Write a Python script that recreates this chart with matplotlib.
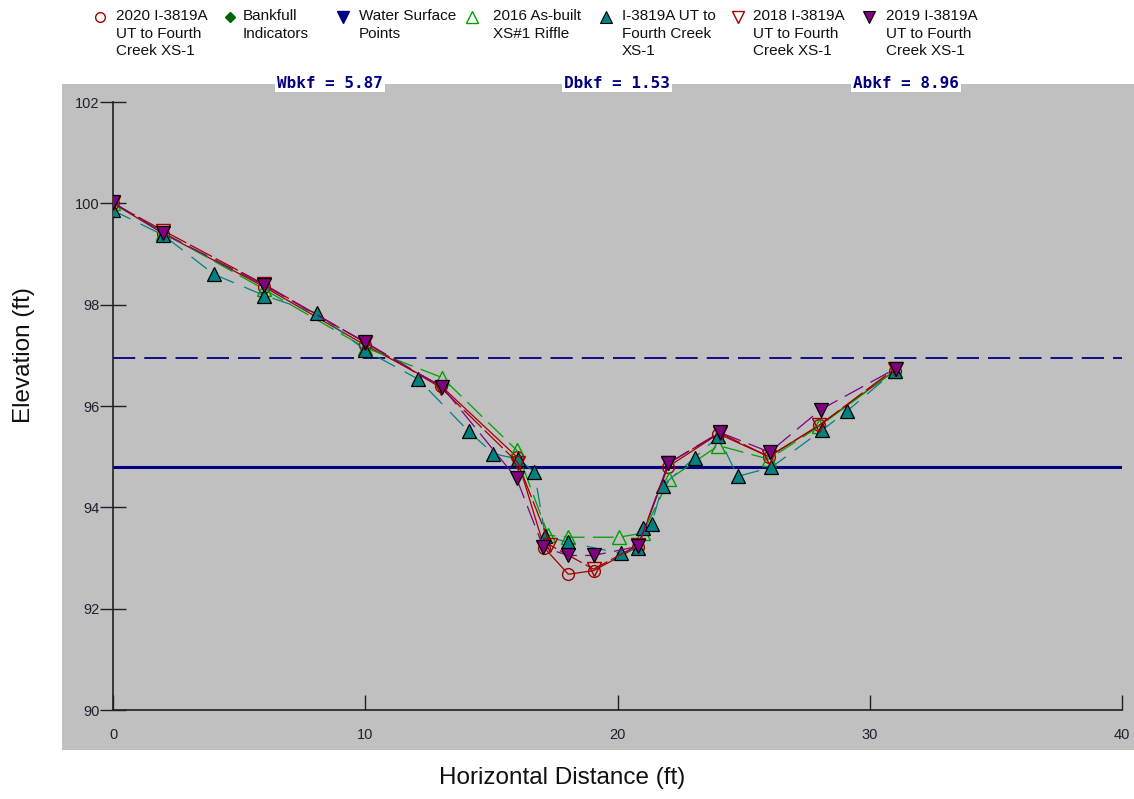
import matplotlib
matplotlib.use("Agg")
import matplotlib.pyplot as plt
from matplotlib.lines import Line2D
from matplotlib.patches import Rectangle

plt.rcParams['font.family'] = ['Liberation Sans', 'DejaVu Sans']
plt.rcParams['lines.scale_dashes'] = False

# Survey series: station (ft) and elevation (ft)
x_2020 = [0, 2, 6, 10, 13, 16, 17.1, 18.05, 19.05, 20.8, 22.0, 24.0, 26.0, 28.0, 31.0]
y_2020 = [100.0, 99.4, 98.35, 97.2, 96.4, 95.0, 93.2, 92.68, 92.75, 93.22, 94.8, 95.45, 95.0, 95.62, 96.7]

x_2016 = [0, 2, 6, 10, 13.05, 16.0, 17.26, 18.05, 20.04, 21.0, 22.06, 24.0, 26.0, 28.0, 31.0]
y_2016 = [100.0, 99.42, 98.3, 97.15, 96.56, 95.13, 93.45, 93.41, 93.41, 93.49, 94.56, 95.22, 94.95, 95.6, 96.7]

x_base = [0, 2, 4, 6, 8.1, 10, 12.1, 14.1, 15.08, 16.07, 16.7, 17.14, 18.05, 20.12, 20.83,
          21.03, 21.35, 21.79, 23.06, 24.0, 24.76, 26.1, 28.1, 29.1, 31.0]
y_base = [99.86, 99.37, 98.6, 98.18, 97.83, 97.1, 96.53, 95.5, 95.06, 94.95, 94.7, 93.43, 93.31,
          93.09, 93.2, 93.59, 93.67, 94.43, 94.98, 95.4, 94.61, 94.79, 95.52, 95.9, 96.7]

x_2018 = [0, 2, 6, 10, 13, 16.05, 17.34, 19.05, 20.83, 22.02, 24.05, 26.0, 28.0, 31.0]
y_2018 = [100.0, 99.46, 98.4, 97.25, 96.36, 94.88, 93.25, 92.78, 93.26, 94.87, 95.47, 95.0, 95.62, 96.74]

x_2019 = [0, 2, 6, 10, 13.06, 16.0, 17.06, 18.05, 19.05, 20.83, 22.02, 24.05, 26.03, 28.06, 31.03]
y_2019 = [100.02, 99.41, 98.38, 97.26, 96.37, 94.57, 93.21, 93.05, 93.05, 93.23, 94.87, 95.48, 95.09, 95.93, 96.74]

bankfull_elev = 96.95
water_surface_elev = 94.8

wbkf, dbkf, abkf = 5.87, 1.53, 8.96

x_ticks = [0, 10, 20, 30, 40]
y_ticks = [90, 92, 94, 96, 98, 100, 102]

legend_labels = [
    "2020 I-3819A\nUT to Fourth\nCreek XS-1",
    "Bankfull\nIndicators",
    "Water Surface\nPoints",
    "2016 As-built\nXS#1 Riffle",
    "I-3819A UT to\nFourth Creek\nXS-1",
    "2018 I-3819A\nUT to Fourth\nCreek XS-1",
    "2019 I-3819A\nUT to Fourth\nCreek XS-1",
]

RED = '#A00000'
GREEN = '#00A000'
DKGREEN = '#006400'
NAVY = '#000080'
TEAL = '#008080'
PURPLE = '#800080'
GRAY = '#C0C0C0'

W, H = 1134, 799
fig = plt.figure(figsize=(W / 100, H / 100), dpi=100)
fig.patch.set_facecolor('white')

# gray chart panel behind the axes
panel_top = 84
panel_bot = 750
panel_left = 62
fig.add_artist(Rectangle((panel_left / W, 1 - panel_bot / H), 1 - panel_left / W,
                         (panel_bot - panel_top) / H, transform=fig.transFigure,
                         facecolor=GRAY, edgecolor='none', zorder=0))

ax_l, ax_r, ax_t, ax_b = 113, 1122, 102, 710
ax = fig.add_axes([ax_l / W, 1 - ax_b / H, (ax_r - ax_l) / W, (ax_b - ax_t) / H])
ax.set_facecolor(GRAY)
ax.set_xlim(0, 40)
ax.set_ylim(90, 102)
for s in ('top', 'right'):
    ax.spines[s].set_visible(False)
for s in ('left', 'bottom'):
    ax.spines[s].set_color('#202020')
    ax.spines[s].set_linewidth(1.2)

ax.set_xticks(x_ticks)
ax.set_yticks(y_ticks)
ax.tick_params(axis='x', direction='in', length=11, width=1, color='#202020',
               pad=13, labelsize=10.5, labelcolor='#202030')
ax.tick_params(axis='y', direction='inout', length=19, width=1, color='#202020',
               pad=0, labelsize=10.5, labelcolor='#202030')

# reference elevations
ax.axhline(bankfull_elev, color=NAVY, lw=1.3, dashes=(16, 6.5), zorder=2)
ax.axhline(water_surface_elev, color=NAVY, lw=2.2, zorder=2)

lw = 0.9
ms = 10
ax.plot(x_2020, y_2020, color=RED, lw=lw, marker='o', ms=ms - 1.5, mfc='none', mec=RED, mew=1, zorder=3)
ax.plot(x_2016, y_2016, color=GREEN, lw=lw, dashes=(15, 6), marker='^', ms=ms, mfc='none', mec=GREEN,
        mew=1, zorder=3)
ax.plot(x_base, y_base, color=TEAL, lw=lw, dashes=(14, 8), marker='^', ms=ms, mfc=TEAL, mec='black',
        mew=0.9, zorder=4)
ax.plot(x_2018, y_2018, color=RED, lw=lw, dashes=(18, 3), marker='v', ms=ms, mfc='none', mec=RED,
        mew=1, zorder=4)
ax.plot(x_2019, y_2019, color=PURPLE, lw=lw, dashes=(15, 6), marker='v', ms=ms, mfc=PURPLE, mec='black',
        mew=0.9, zorder=5)

fig.text(562 / W, 1 - 778 / H, "Horizontal Distance (ft)", fontsize=17.5, color='#101010',
         ha='center', va='center')
fig.text(24 / W, 1 - 355 / H, "Elevation (ft)", rotation=90, fontsize=17.5, color='#101010',
         ha='center', va='center')

# bankfull summary boxes
box_y = 1 - 83 / H
for cx, txt in [(330, f"Wbkf = {wbkf:.2f}"), (617, f"Dbkf = {dbkf:.2f}"), (906, f"Abkf = {abkf:.2f}")]:
    fig.text(cx / W, box_y, txt, family='DejaVu Sans Mono', weight='bold', fontsize=11.5, color=NAVY,
             ha='center', va='center',
             bbox=dict(facecolor='white', edgecolor='none', boxstyle='square,pad=0.12'))

# legend row
legend_styles = [
    dict(marker='o', mfc='none', mec=RED, mew=1, ms=7),
    dict(marker='D', mfc=DKGREEN, mec=DKGREEN, ms=5.5),
    dict(marker='v', mfc=NAVY, mec=NAVY, ms=8),
    dict(marker='^', mfc='none', mec=GREEN, mew=1, ms=8),
    dict(marker='^', mfc=TEAL, mec='black', mew=0.8, ms=8),
    dict(marker='v', mfc='none', mec=RED, mew=1, ms=8),
    dict(marker='v', mfc=PURPLE, mec='black', mew=0.8, ms=8),
]
marker_x = [100, 230, 343, 472, 606, 738, 869]
text_x = [116, 243, 359, 493, 622, 753, 886]
for mx, tx, lab, st in zip(marker_x, text_x, legend_labels, legend_styles):
    fig.add_artist(Line2D([mx / W], [1 - 17 / H], transform=fig.transFigure, linestyle='none', **st))
    fig.text(tx / W, 1 - 9 / H, lab, fontsize=11, color='#101010', ha='left', va='top',
             linespacing=1.34)

fig.savefig("out.png", dpi=100, facecolor='white')
